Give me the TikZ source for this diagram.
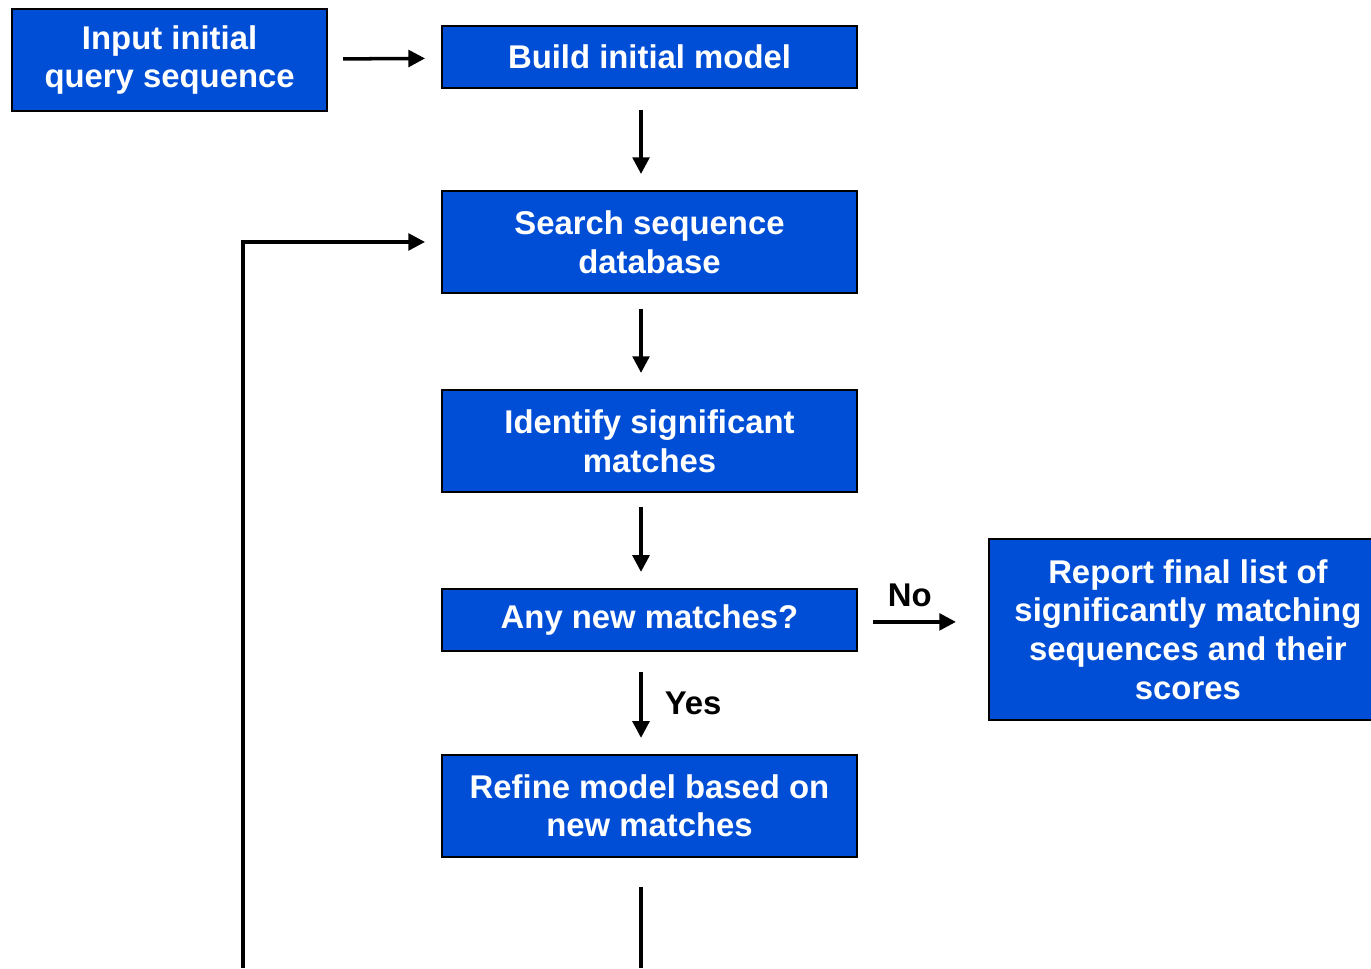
\documentclass[tikz,border=0pt]{standalone}
\usepackage{fontspec}
\setmainfont{Liberation Sans}
\usetikzlibrary{arrows.meta}
\usetikzlibrary{positioning}
\definecolor{boxblue}{RGB}{0,78,214}

\begin{document}
\begin{tikzpicture}[x=0.02cm,y=-0.02cm,>={Triangle[length=9.5pt,width=9.5pt]},
  line width=2pt,shorten >=0.34cm,shorten <=0.32cm,
  stage box/.style={rectangle,fill=boxblue,draw=black,line width=1pt,text=white,
    minimum width=8.3cm,minimum height=2.04cm,align=center,inner sep=0pt,outer sep=0pt,
    font=\bfseries\fontsize{18.7}{22}\selectfont},
  short box/.style={stage box,minimum height=1.24cm},
  answer/.style={text=black,inner sep=0pt,font=\bfseries\fontsize{18.7}{22}\selectfont}]

  \useasboundingbox (0,0) rectangle (1371,968);
  \clip (0,0) rectangle (1371,968);

  \node[short box] (build) at (649.5,57) {Build initial model};
  \node[stage box] (input) [left=2.3cm of build,yshift=-0.06cm,minimum width=6.3cm] {Input initial\\query sequence};
  \node[stage box] (search) [below=2.06cm of build] {Search sequence\\database};
  \node[stage box] (identify) [below=1.94cm of search] {Identify significant\\matches};
  \node[short box] (any) [below=1.94cm of identify] {Any new matches?};
  \node[stage box] (refine) [below=2.08cm of any] {Refine model based on\\new matches};
  \node[stage box] (report) [right=2.64cm of any,yshift=-0.19cm,minimum width=7.96cm,minimum height=3.62cm]
    {Report final list of\\significantly matching\\sequences and their\\scores};

  \coordinate (stem) at (641,0);
  \coordinate (loopfoot) at (243,968);
  \coordinate (refinefoot) at (641,968);

  \draw[->] (input) -- (build);
  \draw[->,shorten <=0.44cm] (build.south -| stem) -- (search.north -| stem);
  \draw[->] (search.south -| stem) -- (identify.north -| stem);
  \draw[->,shorten <=0.3cm] (identify.south -| stem) -- (any.north -| stem);
  \draw[->,shorten <=0.42cm] (any.south -| stem) -- node[answer,right=0.44cm] {Yes} (refine.north -| stem);
  \draw[->,shorten >=0.66cm] (any.east) ++(0,2) coordinate (noleft) -- (noleft -| report.west)
    node[answer,pos=0.4,above=0.26cm] {No};
  \draw[shorten <=0.6cm,shorten >=0pt] (refine.south -| stem) -- (refinefoot);
  \draw[->,shorten <=0pt] (loopfoot) |- (search.west);
\end{tikzpicture}
\end{document}
